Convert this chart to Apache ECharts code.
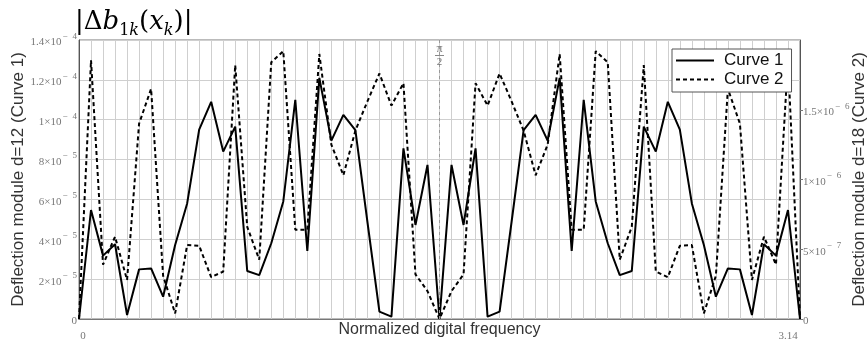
<!DOCTYPE html>
<html>
<head>
<meta charset="utf-8">
<script src="https://cdn.jsdelivr.net/npm/echarts@6/dist/echarts.min.js"></script>
<style>html,body{margin:0;padding:0;background:#fff}#c{width:867px;height:347px}</style>
</head>
<body>
<div id="c"></div>
<script>
// normalized digital frequency samples k*pi/60, k = 0..60
const freqCategories = Array.from({length: 61}, (_, k) => (k * Math.PI / 60).toFixed(4));
const xTickLabels = ['0', '3.14'];

// Curve 1 (d=12), units of 1e-5
const curve1 = [0, 5.47, 3.18, 3.75, 0.2, 2.49, 2.54, 1.12, 3.71, 5.8, 9.5, 10.9, 8.4, 9.65, 2.41, 2.2, 3.8, 5.9, 11.0, 3.41, 12.1,
  8.95, 10.24, 9.48, 4.88, 0.37, 0.12, 8.56, 4.72, 7.73, 0,
  7.73, 4.72, 8.56, 0.12, 0.37, 4.88, 9.48, 10.24, 8.95,
  12.1, 3.41, 11.0, 5.9, 3.8, 2.2, 2.41, 9.65, 8.4, 10.9, 9.5, 5.8, 3.71, 1.12, 2.54, 2.49, 0.2, 3.75, 3.18, 5.47, 0];

// Curve 2 (d=18), units of 1e-7
const curve2 = [0, 18.55, 3.9, 5.9, 2.8, 14.0, 16.5, 3.1, 0.4, 5.3, 5.25, 3.0, 3.4, 18.2, 6.6, 4.25, 18.4, 19.2, 6.4, 6.4, 19.0,
  12.5, 10.3, 13.5, 15.6, 17.6, 15.3, 16.9, 3.2, 2.0, 0,
  2.0, 3.2, 16.9, 15.3, 17.6, 15.6, 13.5, 10.3, 12.5,
  19.0, 6.4, 6.4, 19.2, 18.4, 4.25, 6.6, 18.2, 3.4, 3.0, 5.25, 5.3, 0.4, 3.1, 16.5, 14.0, 2.8, 5.9, 3.9, 18.55, 0];

// tick labels: [mantissa, exponent]
const leftTicks = [['0', ''], ['2', '5'], ['4', '5'], ['6', '5'], ['8', '5'], ['1', '4'], ['1.2', '4'], ['1.4', '4']];
const rightTicks = [['0', ''], ['5', '7'], ['1', '6'], ['1.5', '6']];
const seriesNames = ['Curve 1', 'Curve 2'];

const tickFmt = (ticks) => (v, i) => {
  const t = ticks[i];
  if (!t) return '';
  if (!t[1]) return '{m|' + t[0] + '}';
  return '{m|' + t[0] + '×10}{e|−}{f|' + t[1] + '}';
};
const tickRich = {
  m: {fontFamily: 'Liberation Serif', fontSize: 11, color: '#777', lineHeight: 16, verticalAlign: 'bottom'},
  e: {fontFamily: 'Liberation Serif', fontSize: 9, color: '#777', lineHeight: 16, verticalAlign: 'top', padding: [0, 0, 0, 1]},
  f: {fontFamily: 'Liberation Serif', fontSize: 9, color: '#777', lineHeight: 16, verticalAlign: 'top', padding: [0, 0, 0, 5]}
};

const chart = echarts.init(document.getElementById('c'), null, {renderer: 'canvas'});
chart.setOption({
  animation: false,
  backgroundColor: '#fff',
  title: {
    left: 70, top: 0,
    text: '{a||Δ}{b|b}{s|1}{t|k}{a|(}{b|x}{t|k}{a|)|}',
    textStyle: {
      fontWeight: 'normal',
      rich: {
        a: {fontFamily: 'DejaVu Serif', fontWeight: 'normal', fontSize: 26, color: '#000', lineHeight: 34, verticalAlign: 'middle'},
        b: {fontFamily: 'DejaVu Serif', fontWeight: 'normal', fontStyle: 'italic', fontSize: 26, color: '#000', lineHeight: 34, verticalAlign: 'middle'},
        s: {fontFamily: 'DejaVu Serif', fontWeight: 'normal', fontSize: 16, color: '#000', lineHeight: 34, verticalAlign: 'bottom'},
        t: {fontFamily: 'DejaVu Serif', fontWeight: 'normal', fontStyle: 'italic', fontSize: 16, color: '#000', lineHeight: 34, verticalAlign: 'bottom'}
      }
    }
  },
  legend: {
    data: seriesNames,
    orient: 'vertical',
    left: 672, top: 49,
    backgroundColor: '#fff',
    borderColor: '#555', borderWidth: 1, borderRadius: 0,
    padding: [3, 8, 4, 3],
    itemWidth: 38, itemHeight: 14, itemGap: 2,
    itemStyle: {opacity: 0},
    textStyle: {fontFamily: 'Liberation Sans', fontSize: 17, color: '#111', padding: [0, 0, 0, 5]}
  },
  grid: {left: 79, right: 67, top: 40, bottom: 28, show: true, borderColor: '#777', borderWidth: 1, outerBoundsMode: 'none', containLabel: false},
  xAxis: [{
    type: 'category',
    data: freqCategories,
    boundaryGap: false,
    name: 'Normalized digital frequency',
    nameLocation: 'middle',
    nameGap: 3,
    nameMoveOverlap: false,
    nameTextStyle: {fontFamily: 'Liberation Sans', fontSize: 16, color: '#333', verticalAlign: 'top'},
    axisLine: {show: true, lineStyle: {color: '#555', width: 1}},
    axisTick: {show: false},
    axisLabel: {
      interval: 0, margin: 12,
      formatter: (v, i) => i === 0 ? '{a|' + xTickLabels[0] + '}' : (i === freqCategories.length - 1 ? '{b|' + xTickLabels[1] + '}' : ''),
      rich: {
        a: {fontFamily: 'Liberation Serif', fontSize: 11, color: '#777', padding: [0, 0, 0, 8]},
        b: {fontFamily: 'Liberation Serif', fontSize: 11, color: '#777', padding: [0, 24, 0, 0]}
      }
    },
    splitLine: {show: true, interval: 0, lineStyle: {color: '#cfcfcf', width: 1}}
  }, {
    type: 'category',
    data: freqCategories,
    boundaryGap: false,
    position: 'top',
    z: 5,
    axisLine: {show: true, lineStyle: {color: '#777', width: 1}},
    axisTick: {show: false},
    axisLabel: {show: false},
    splitLine: {show: false}
  }],
  yAxis: [{
    type: 'value',
    min: 0, max: 14, interval: 2,
    name: 'Deflection module d=12 (Curve 1)',
    nameLocation: 'middle',
    nameGap: 52,
    nameMoveOverlap: false,
    nameTextStyle: {fontFamily: 'Liberation Sans', fontSize: 17, color: '#333'},
    axisLine: {show: true, lineStyle: {color: '#555'}},
    axisTick: {show: false},
    axisLabel: {margin: 2, formatter: tickFmt(leftTicks), rich: tickRich},
    splitLine: {show: true, lineStyle: {color: '#cfcfcf', width: 1}}
  }, {
    type: 'value',
    min: 0, max: 20, interval: 5,
    position: 'right',
    name: 'Deflection module d=18 (Curve 2)',
    nameLocation: 'middle',
    nameGap: 51,
    nameRotate: 90,
    nameMoveOverlap: false,
    nameTextStyle: {fontFamily: 'Liberation Sans', fontSize: 17, color: '#333'},
    axisLine: {show: true, lineStyle: {color: '#555'}},
    axisTick: {show: true, length: 3, lineStyle: {color: '#777'}},
    axisLabel: {margin: 3, showMaxLabel: false, formatter: tickFmt(rightTicks), rich: tickRich},
    splitLine: {show: false}
  }],
  series: [{
    name: seriesNames[0],
    type: 'line',
    yAxisIndex: 0,
    data: curve1,
    symbol: 'none',
    z: 3,
    lineStyle: {color: '#000', width: 2, type: 'solid'},
    itemStyle: {color: '#000'},
    markLine: {
      silent: true, symbol: 'none',
      lineStyle: {color: '#999', width: 1, type: [3, 3]},
      label: {show: false},
      data: [{xAxis: freqCategories[30]}]
    },
    markPoint: {
      symbol: 'circle', symbolSize: 0, silent: true,
      label: {
        show: true, position: 'bottom', distance: 3,
        formatter: '{n|π}\n{b| }\n{d|2}',
        rich: {
          n: {fontFamily: 'Liberation Serif', fontSize: 12, color: '#777', lineHeight: 11, align: 'center'},
          b: {width: 9, height: 1, lineHeight: 3, backgroundColor: '#888', fontSize: 1, align: 'center'},
          d: {fontFamily: 'Liberation Serif', fontSize: 11, color: '#777', lineHeight: 11, align: 'center'}
        }
      },
      data: [{coord: [freqCategories[30], 14]}]
    }
  }, {
    name: seriesNames[1],
    type: 'line',
    yAxisIndex: 1,
    data: curve2,
    symbol: 'none',
    z: 2,
    lineStyle: {color: '#000', width: 2, type: [4, 3]},
    itemStyle: {color: '#000'}
  }]
});
</script>
</body>
</html>
